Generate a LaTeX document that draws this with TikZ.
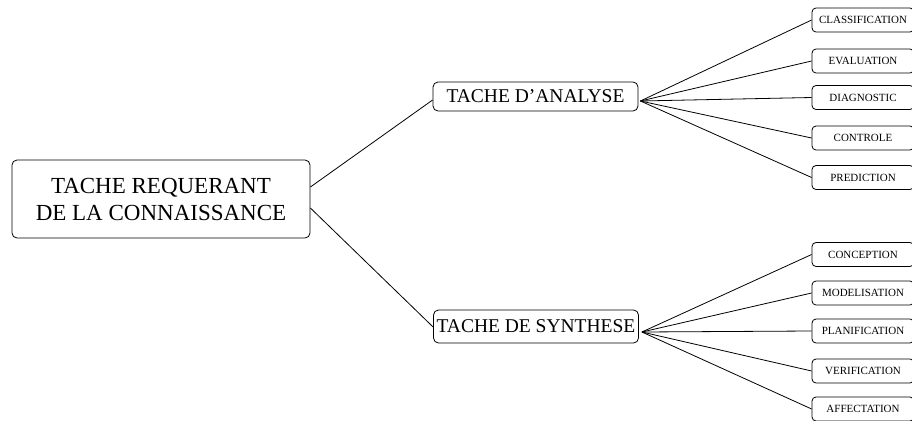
\documentclass[tikz,border=0pt]{standalone}
\usepackage{fontspec}
\setmainfont{Liberation Serif}
\usetikzlibrary{calc}
\tikzset{
  box/.style={draw, rounded corners=5pt, line width=0.8pt, inner sep=0pt, align=center},
  rootbox/.style={box, minimum width=298pt, minimum height=78pt, font=\fontsize{23}{27}\selectfont},
  midbox/.style={box, minimum width=205pt, font=\fontsize{19.5}{22}\selectfont},
  leafbox/.style={box, minimum width=102pt, minimum height=24pt, rounded corners=4pt, font=\fontsize{11}{12}\selectfont},
  link/.style={line width=0.8pt}
}
\begin{document}
\begin{tikzpicture}[x=1pt,y=-1pt]
\clip (0,0) rectangle (912,420);
\node[rootbox] (root) at (161,199) {TACHE REQUERANT\\DE LA CONNAISSANCE};
\node[midbox, minimum height=29pt] (ana) at (535.5,96.5) {TACHE D'ANALYSE};
\node[midbox, minimum height=33pt] (syn) at (536,326.5) {TACHE DE SYNTHESE};
% analysis leaves
\node[leafbox] (a1) at (863,20) {CLASSIFICATION};
\node[leafbox] (a2) at (863,61) {EVALUATION};
\node[leafbox] (a3) at (863,97.5) {DIAGNOSTIC};
\node[leafbox] (a4) at (863,138) {CONTROLE};
\node[leafbox] (a5) at (863,177.5) {PREDICTION};
% synthesis leaves
\node[leafbox] (s1) at (863,254.5) {CONCEPTION};
\node[leafbox] (s2) at (863,293) {MODELISATION};
\node[leafbox] (s3) at (863,331) {PLANIFICATION};
\node[leafbox] (s4) at (863,371) {VERIFICATION};
\node[leafbox] (s5) at (863,409) {AFFECTATION};
% hubs
\coordinate (rootA) at ($(root.east)+(0,-12)$);
\coordinate (rootS) at ($(root.east)+(0,9)$);
\coordinate (anaIn) at ($(ana.west)+(0,3.5)$);
\coordinate (synIn) at ($(syn.west)+(0,0.5)$);
\coordinate (hubA) at ($(ana.east)+(2,4.5)$);
\coordinate (hubS) at ($(syn.east)+(3,5.5)$);
\draw[link] (rootA) -- (anaIn);
\draw[link] (rootS) -- (synIn);
\foreach \n in {a1,a2,a3,a4,a5} \draw[link] (hubA) -- (\n.west);
\foreach \n in {s1,s2,s3,s4,s5} \draw[link] (hubS) -- (\n.west);
\end{tikzpicture}
\end{document}
